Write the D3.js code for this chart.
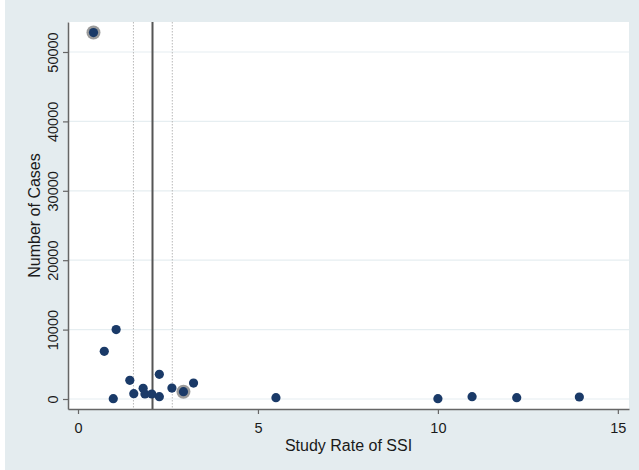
<!DOCTYPE html>
<html>
<head>
<meta charset="utf-8">
<script src="https://cdn.jsdelivr.net/npm/d3@7"></script>
<style>
  body { margin: 0; background: #fff; }
  text { font-family: "Liberation Sans", Arial, sans-serif; fill: #1a1a1a; }
</style>
</head>
<body>
<svg id="chart"></svg>
<script>
// study SSI rate vs number of cases
const rates = [0.43, 0.73, 1.06, 0.98, 1.44, 1.55, 1.81, 1.86, 2.05, 2.26, 2.26, 2.61, 2.93, 3.21, 5.5, 10.0, 10.95, 12.19, 13.93];
const cases = [52800, 6870, 10000, 50, 2690, 770, 1540, 720, 720, 3560, 330, 1580, 1050, 2300, 190, 40, 330, 190, 290];
// studies drawn with a gray halo
const highlighted = [0, 12];
const pooledRate = 2.07;
const ciRates = [1.54, 2.62];
const xTicks = [0, 5, 10, 15];
const yTicks = [0, 10000, 20000, 30000, 40000, 50000];

const W = 639, H = 470;
const margin = {top: 22, right: 10, bottom: 61, left: 68};
const width = W - margin.left - margin.right;
const height = H - margin.top - margin.bottom;

const svg = d3.select('#chart').attr('width', W).attr('height', H);

// outer graph region
svg.append('rect')
    .attr('x', 5).attr('y', 0)
    .attr('width', W - 5).attr('height', H)
    .attr('fill', '#e4ecef');

const chart = svg.append('g')
    .attr('transform', `translate(${margin.left},${margin.top})`);

chart.append('rect')
    .attr('width', width).attr('height', height)
    .attr('fill', '#fff');

const xScale = d3.scaleLinear().domain([-0.278, 15.31]).range([0, width]);
const yScale = d3.scaleLinear().domain([-1441, 54323]).range([height, 0]);

// horizontal grid
chart.append('g')
  .selectAll('line')
  .data(yTicks)
  .join('line')
    .attr('x1', 0).attr('x2', width)
    .attr('y1', d => yScale(d)).attr('y2', d => yScale(d))
    .attr('stroke', '#e6eef1')
    .attr('stroke-width', 1.2);

// confidence bounds
chart.selectAll('.ci')
  .data(ciRates)
  .join('line')
    .attr('class', 'ci')
    .attr('x1', d => xScale(d)).attr('x2', d => xScale(d))
    .attr('y1', 0).attr('y2', height)
    .attr('stroke', '#b8b8b8')
    .attr('stroke-width', 1)
    .attr('stroke-dasharray', '1.5,1.5');

// pooled rate
chart.append('line')
    .attr('x1', xScale(pooledRate)).attr('x2', xScale(pooledRate))
    .attr('y1', 0).attr('y2', height)
    .attr('stroke', '#555')
    .attr('stroke-width', 2);

// axes
const xAxis = d3.axisBottom(xScale).tickValues(xTicks).tickSize(5).tickPadding(9).tickSizeOuter(0);
const yAxis = d3.axisLeft(yScale).tickValues(yTicks).tickFormat(d3.format('d'))
    .tickSize(5).tickPadding(6).tickSizeOuter(0);

const xAxisG = chart.append('g')
    .attr('transform', `translate(0,${height})`)
    .call(xAxis);
const yAxisG = chart.append('g').call(yAxis);

[xAxisG, yAxisG].forEach(g => {
  g.select('.domain').attr('stroke', '#666').attr('stroke-width', 1.5);
  g.selectAll('.tick line').attr('stroke', '#666').attr('stroke-width', 1.2);
  g.selectAll('.tick text').attr('font-size', 14.5).attr('fill', '#1a1a1a')
    .style('font-family', '"Liberation Sans", Arial, sans-serif');
});

yAxisG.selectAll('.tick text')
    .attr('text-anchor', 'middle')
    .attr('x', null).attr('dy', null)
    .attr('transform', 'translate(-10,0) rotate(-90)');

// points
const pts = rates.map((r, i) => ({r, c: cases[i], hl: highlighted.includes(i)}));

chart.selectAll('.halo')
  .data(pts.filter(d => d.hl))
  .join('circle')
    .attr('class', 'halo')
    .attr('cx', d => xScale(d.r)).attr('cy', d => yScale(d.c))
    .attr('r', 7)
    .attr('fill', '#8a8a8a')
    .attr('opacity', 0.85);

chart.selectAll('.dot')
  .data(pts)
  .join('circle')
    .attr('class', 'dot')
    .attr('cx', d => xScale(d.r)).attr('cy', d => yScale(d.c))
    .attr('r', 4.6)
    .attr('fill', '#1a3a68');

// titles
svg.append('text')
    .attr('x', margin.left + width / 2)
    .attr('y', 451)
    .attr('text-anchor', 'middle')
    .attr('font-size', 16)
    .text('Study Rate of SSI');

svg.append('text')
    .attr('transform', `translate(40,${margin.top + height / 2}) rotate(-90)`)
    .attr('text-anchor', 'middle')
    .attr('font-size', 16)
    .text('Number of Cases');
</script>
</body>
</html>
